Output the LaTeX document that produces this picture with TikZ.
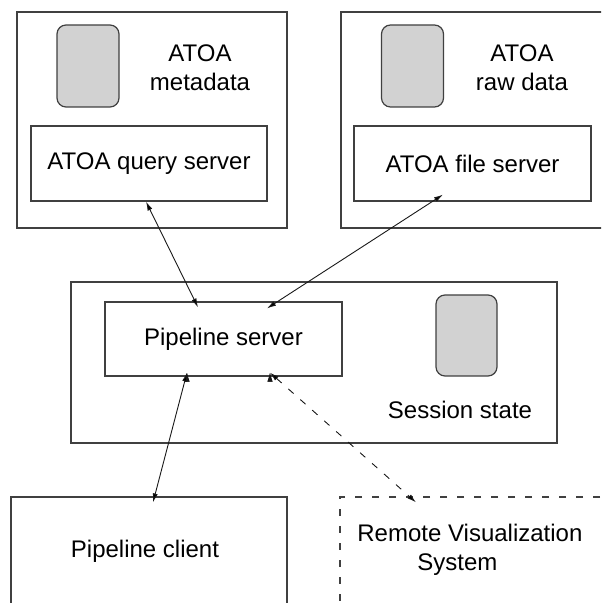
\documentclass[tikz,border=0pt]{standalone}
\usepackage{fontspec}
\setmainfont{Liberation Sans}
\usepackage{tikz}
\usetikzlibrary{calc, positioning, arrows.meta}

\begin{document}
\begin{tikzpicture}[x=0.5pt,y=-0.5pt,
                    font=\fontsize{12}{14.5}\selectfont,
                    box node/.style={draw=black!75,line width=0.6pt,inner sep=0pt},
                    disk node/.style={draw=black!75,line width=0.6pt,fill=gray!35,
                                      rounded corners=4.5pt,minimum width=31pt,minimum height=41pt},
                    text node/.style={align=center,inner sep=0pt},
                    link/.style={<->,>={Latex[length=4.5pt,width=2.6pt]},line width=0.45pt,draw=black!90},
                    dash link/.style={link,dash pattern=on 3.5pt off 4.5pt}]

  \useasboundingbox (0,0) rectangle (601,603);
  \clip (0,0) rectangle (601,603);

  % archive side
  \node[box node,minimum width=135pt,minimum height=108pt] (meta) at (152,120) {};
  \node[box node,minimum width=135pt,minimum height=108pt] (raw) at (476,120) {};
  \node[disk node] (metadisk) at (88,66) {};
  \node[disk node] (rawdisk) at (412.5,66) {};
  \node[text node] (metatext) at (200,67.5) {ATOA\\metadata};
  \node[text node] (rawtext) at (522,67.5) {ATOA\\raw data};
  \node[box node,minimum width=118pt,minimum height=37.5pt] (query) at (149,163.5) {ATOA query server};
  \node[box node,minimum width=118.5pt,minimum height=37.5pt] (file) at (472.5,163.5) {ATOA file server};

  % pipeline
  \node[box node,minimum width=243pt,minimum height=80.5pt] (session) at (314,362.5) {};
  \node[box node,minimum width=118.5pt,minimum height=37pt] (pipeline) at (223.5,339) {Pipeline server};
  \node[disk node,minimum width=30.5pt,minimum height=40.5pt] (statedisk) at (466.5,335.5) {};
  \node[text node] (statetext) at (460,410) {Session state};

  % clients
  \node[box node,minimum width=138pt,minimum height=54pt] (client) at (149,551) {};
  \node[text node] (clienttext) at (145,551) {Pipeline client};
  \node[box node,dash pattern=on 3.5pt off 5pt,minimum width=140pt,minimum height=54pt] (remote) at (480,551) {};
  \node[text node,align=left,anchor=west] (remotetext) at (357,550) {Remote Visualization\\\hspace*{30pt}System};

  \path[link]
    ($(query.south)+(-3,0)$) edge ($(pipeline.north)+(-25.5,6)$)
    ($(file.south)+(-29.5,-7)$) edge ($(pipeline.north)+(43.5,7)$)
    ($(pipeline.south)+(-36.5,-4)$) edge ($(client.north)+(4,6)$);
  \path[dash link]
    ($(pipeline.south)+(46.5,-4)$) edge ($(remote.north)+(-64,6)$);

\end{tikzpicture}
\end{document}
